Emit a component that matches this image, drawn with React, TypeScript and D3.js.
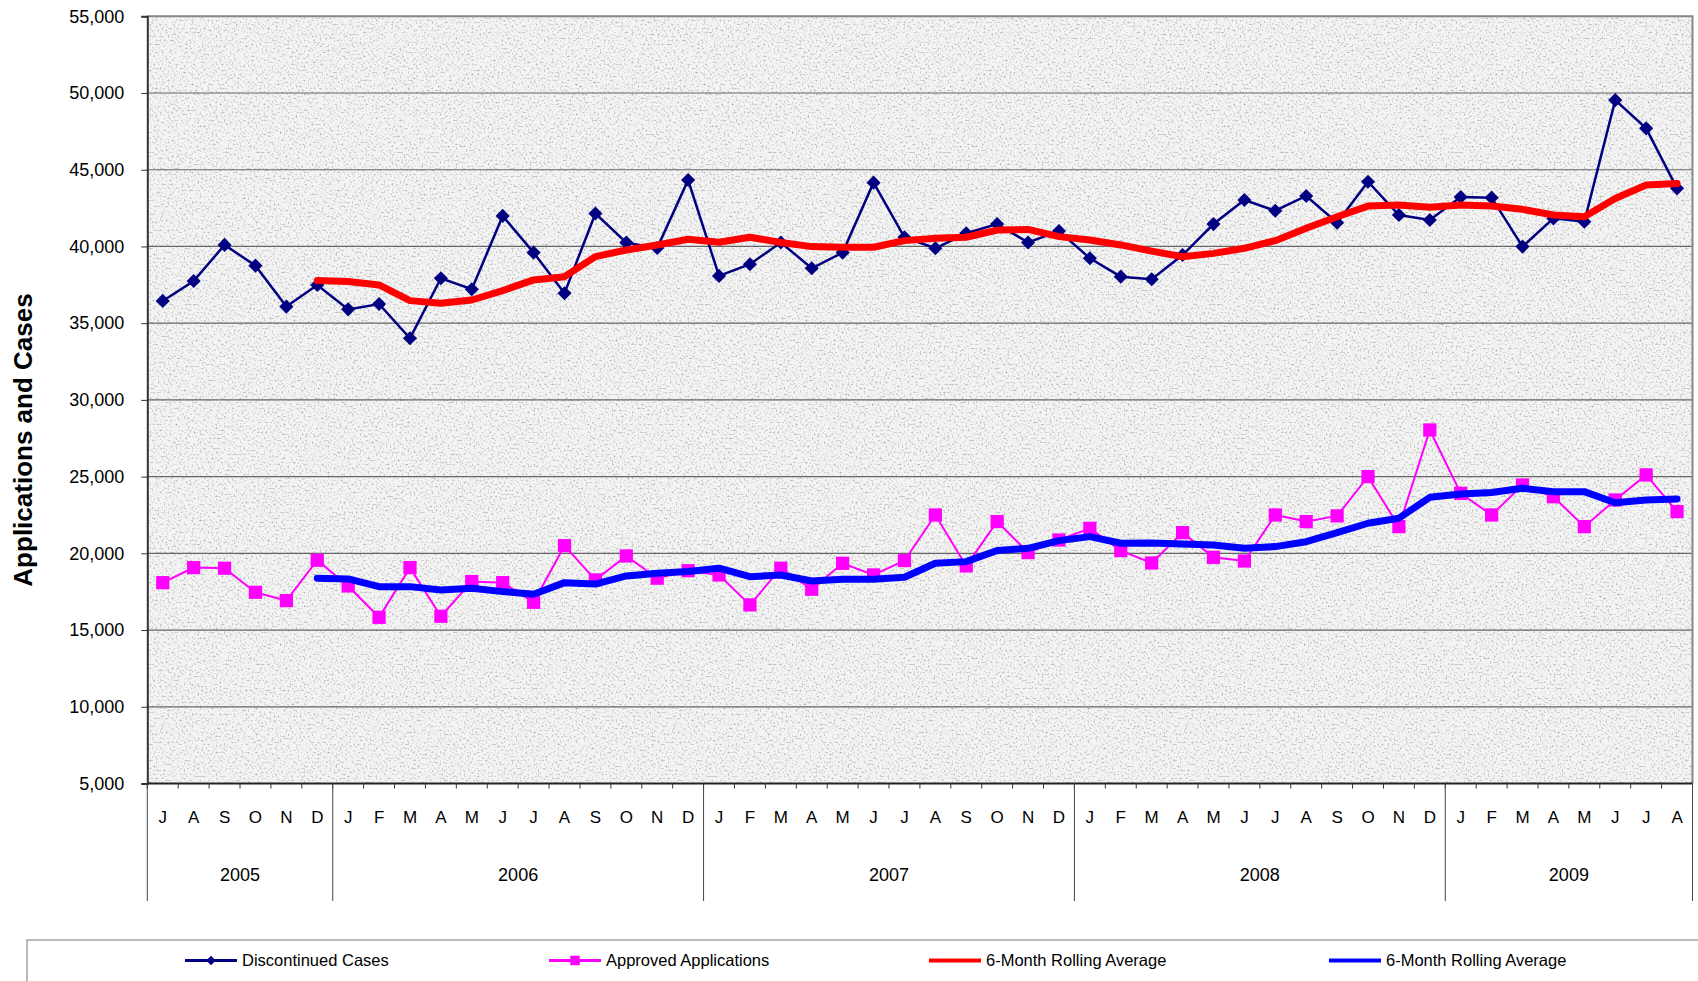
import React, { useEffect, useRef } from 'react';
import * as d3 from 'd3';

// months Jul 2005 .. Aug 2009
const monthLabels = [
  'J', 'A', 'S', 'O', 'N', 'D',
  'J', 'F', 'M', 'A', 'M', 'J', 'J', 'A', 'S', 'O', 'N', 'D',
  'J', 'F', 'M', 'A', 'M', 'J', 'J', 'A', 'S', 'O', 'N', 'D',
  'J', 'F', 'M', 'A', 'M', 'J', 'J', 'A', 'S', 'O', 'N', 'D',
  'J', 'F', 'M', 'A', 'M', 'J', 'J', 'A',
];
const years = ['2005', '2006', '2007', '2008', '2009'];
const yearMonthCounts = [6, 12, 12, 12, 8];

const yTicks = [5000, 10000, 15000, 20000, 25000, 30000, 35000, 40000, 45000, 50000, 55000];

const discontinued = [
  36450, 37750, 40100, 38750, 36080, 37490,
  35900, 36250, 34020, 37930, 37210, 41990, 39600, 36950, 42150, 40250, 39900, 44330,
  38080, 38840, 40260, 38580, 39600, 44160, 40600, 39880, 40860, 41460, 40260, 41000,
  39230, 38030, 37860, 39440, 41460, 43030, 42330, 43290, 41550, 44220, 42050, 41725,
  43220, 43180, 39990, 41830, 41610, 49540, 47700, 43790,
];
const approved = [
  18090, 19070, 19030, 17460, 16920, 19550,
  17875, 15830, 19070, 15900, 18160, 18090, 16810, 20500, 18270, 19830, 18380, 18870,
  18590, 16640, 19030, 17660, 19350, 18590, 19530, 22500, 19180, 22070, 20050, 20870,
  21630, 20180, 19370, 21350, 19740, 19500, 22500, 22070, 22440, 25000, 21740, 28040,
  23910, 22500, 24450, 23690, 21740, 23480, 25110, 22720,
];
// rolling averages start at Dec 2005 (month index 5)
const avgStart = 5;
const discontinuedAvg = [
  37780,
  37710, 37490, 36470, 36300, 36510, 37120, 37820, 38030, 39340, 39770, 40100, 40470,
  40270, 40600, 40260, 39990, 39950, 39950, 40380, 40530, 40600, 41070, 41110, 40640,
  40420, 40100, 39700, 39330, 39550, 39880, 40380, 41180, 41940, 42630, 42700, 42550,
  42700, 42630, 42420, 42050, 41940, 43130, 44000, 44100,
];
const approvedAvg = [
  18375,
  18330, 17830, 17830, 17610, 17720, 17505, 17330, 18090, 18000, 18530, 18700, 18810,
  19030, 18480, 18590, 18200, 18310, 18310, 18440, 19350, 19460, 20180, 20330, 20830,
  21090, 20660, 20680, 20610, 20550, 20330, 20440, 20760, 21350, 21960, 22290, 23650,
  23870, 23960, 24240, 24020, 24020, 23300, 23480, 23540,
];

const legendItems = [
  { name: 'Discontinued Cases', color: '#000080', marker: 'diamond', width: 3 },
  { name: 'Approved Applications', color: '#FF00FF', marker: 'square', width: 3 },
  { name: '6-Month Rolling Average', color: '#FF0000', marker: null, width: 4 },
  { name: '6-Month Rolling Average', color: '#0000FF', marker: null, width: 4 },
];

const FONT = '"Liberation Sans", Arial, sans-serif';

export default function App() {
  const ref = useRef<SVGSVGElement>(null);

  useEffect(() => {
    const W = 1698, H = 981;
    const left = 147.3, right = 1692.5, top = 16.3, bottom = 783.5;

    const svg = d3.select(ref.current).attr('width', W).attr('height', H);
    svg.selectAll('*').remove();

    const x = d3
      .scaleBand<number>()
      .domain(d3.range(monthLabels.length))
      .range([left, right])
      .padding(0);
    const bw = x.bandwidth();
    const cx = (i: number) => (x(i) as number) + bw / 2;
    const edge = (i: number) => left + i * bw;
    const y = d3.scaleLinear().domain([5000, 55000]).range([bottom, top]);

    // granite texture
    const defs = svg.append('defs');
    const f = defs
      .append('filter')
      .attr('id', 'granite')
      .attr('x', 0)
      .attr('y', 0)
      .attr('width', 1)
      .attr('height', 1);
    f.append('feTurbulence')
      .attr('type', 'fractalNoise')
      .attr('baseFrequency', 0.5)
      .attr('numOctaves', 3)
      .attr('seed', 7);
    f.append('feColorMatrix')
      .attr('type', 'matrix')
      .attr('values', '0 0 0 0 0.45  0 0 0 0 0.45  0 0 0 0 0.45  -3.2 0 0 0 1.55');

    svg.append('rect').attr('width', W).attr('height', H).attr('fill', '#fff');
    svg
      .append('rect')
      .attr('x', left)
      .attr('y', top)
      .attr('width', right - left)
      .attr('height', bottom - top)
      .attr('fill', '#f3f3f3');
    svg
      .append('rect')
      .attr('x', left)
      .attr('y', top)
      .attr('width', right - left)
      .attr('height', bottom - top)
      .attr('filter', 'url(#granite)');

    // gridlines
    svg
      .append('g')
      .selectAll('line')
      .data(yTicks.filter((t) => t > 5000 && t < 55000))
      .enter()
      .append('line')
      .attr('x1', left)
      .attr('x2', right)
      .attr('y1', (d) => y(d))
      .attr('y2', (d) => y(d))
      .attr('stroke', '#666')
      .attr('stroke-width', 1.2);

    // plot border (top/right)
    svg
      .append('path')
      .attr('d', `M${left},${top}H${right}V${bottom}`)
      .attr('fill', 'none')
      .attr('stroke', '#888')
      .attr('stroke-width', 2);

    // y axis
    const yAxis = d3
      .axisLeft(y)
      .tickValues(yTicks)
      .tickSize(6)
      .tickPadding(17)
      .tickFormat((d) => d3.format(',')(d as number));
    const ya = svg.append('g').attr('transform', `translate(${left},0)`).call(yAxis);
    ya.select('.domain').attr('stroke', '#333').attr('stroke-width', 2);
    ya.selectAll('.tick line').attr('stroke', '#333');
    ya.selectAll('.tick text')
      .attr('fill', '#000')
      .style('font-family', FONT)
      .style('font-size', '18px');

    // x axis line + month ticks
    svg
      .append('line')
      .attr('x1', left)
      .attr('x2', right)
      .attr('y1', bottom)
      .attr('y2', bottom)
      .attr('stroke', '#222')
      .attr('stroke-width', 2);
    svg
      .append('g')
      .selectAll('line')
      .data(d3.range(monthLabels.length + 1))
      .enter()
      .append('line')
      .attr('x1', (d) => edge(d))
      .attr('x2', (d) => edge(d))
      .attr('y1', bottom)
      .attr('y2', bottom + 5)
      .attr('stroke', '#333')
      .attr('stroke-width', 1);

    // year separators
    const bounds = [0];
    yearMonthCounts.forEach((c, i) => bounds.push(bounds[i] + c));
    svg
      .append('g')
      .selectAll('line')
      .data(bounds)
      .enter()
      .append('line')
      .attr('x1', (d) => edge(d))
      .attr('x2', (d) => edge(d))
      .attr('y1', bottom)
      .attr('y2', 901)
      .attr('stroke', '#444')
      .attr('stroke-width', 1);

    svg
      .append('g')
      .selectAll('text')
      .data(monthLabels)
      .enter()
      .append('text')
      .attr('x', (d, i) => cx(i))
      .attr('y', 817)
      .attr('dy', '0.35em')
      .attr('text-anchor', 'middle')
      .style('font-family', FONT)
      .style('font-size', '17px')
      .text((d) => d);

    svg
      .append('g')
      .selectAll('text')
      .data(years)
      .enter()
      .append('text')
      .attr('x', (d, i) => (edge(bounds[i]) + edge(bounds[i + 1])) / 2)
      .attr('y', 875)
      .attr('dy', '0.35em')
      .attr('text-anchor', 'middle')
      .style('font-family', FONT)
      .style('font-size', '18px')
      .text((d) => d);

    // y title
    svg
      .append('text')
      .attr('transform', `translate(32,440) rotate(-90)`)
      .attr('text-anchor', 'middle')
      .style('font-family', FONT)
      .style('font-size', '26px')
      .style('font-weight', 'bold')
      .text('Applications and Cases');

    // series
    const line = (offset: number) =>
      d3
        .line<number>()
        .x((d, i) => cx(i + offset))
        .y((d) => y(d));

    svg
      .append('path')
      .attr('d', line(0)(discontinued))
      .attr('fill', 'none')
      .attr('stroke', '#000080')
      .attr('stroke-width', 2.5);
    svg
      .append('g')
      .selectAll('path')
      .data(discontinued)
      .enter()
      .append('path')
      .attr('d', d3.symbol(d3.symbolSquare, 100)())
      .attr('transform', (d, i) => `translate(${cx(i)},${y(d)}) rotate(45)`)
      .attr('fill', '#000080');

    svg
      .append('path')
      .attr('d', line(0)(approved))
      .attr('fill', 'none')
      .attr('stroke', '#FF00FF')
      .attr('stroke-width', 2);
    svg
      .append('g')
      .selectAll('path')
      .data(approved)
      .enter()
      .append('path')
      .attr('d', d3.symbol(d3.symbolSquare, 175)())
      .attr('transform', (d, i) => `translate(${cx(i)},${y(d)})`)
      .attr('fill', '#FF00FF');

    svg
      .append('path')
      .attr('d', line(avgStart)(discontinuedAvg))
      .attr('fill', 'none')
      .attr('stroke', '#FF0000')
      .attr('stroke-width', 7)
      .attr('stroke-linejoin', 'round')
      .attr('stroke-linecap', 'round');
    svg
      .append('path')
      .attr('d', line(avgStart)(approvedAvg))
      .attr('fill', 'none')
      .attr('stroke', '#0000FF')
      .attr('stroke-width', 7)
      .attr('stroke-linejoin', 'round')
      .attr('stroke-linecap', 'round');

    // legend
    svg
      .append('rect')
      .attr('x', 27)
      .attr('y', 940)
      .attr('width', W)
      .attr('height', 100)
      .attr('fill', '#fff')
      .attr('stroke', '#777')
      .attr('stroke-width', 1);

    const legendX = [185, 549, 929, 1329];
    const lg = svg
      .append('g')
      .selectAll('g')
      .data(legendItems)
      .enter()
      .append('g')
      .attr('transform', (d, i) => `translate(${legendX[i]},960.5)`);
    lg.append('line')
      .attr('x1', 0)
      .attr('x2', 52)
      .attr('stroke', (d) => d.color)
      .attr('stroke-width', (d) => d.width);
    lg.filter((d) => d.marker === 'diamond')
      .append('path')
      .attr('d', d3.symbol(d3.symbolSquare, 45)())
      .attr('transform', 'translate(26,0) rotate(45)')
      .attr('fill', (d) => d.color);
    lg.filter((d) => d.marker === 'square')
      .append('path')
      .attr('d', d3.symbol(d3.symbolSquare, 90)())
      .attr('transform', 'translate(26,0)')
      .attr('fill', (d) => d.color);
    lg.append('text')
      .attr('x', 57)
      .attr('dy', '0.35em')
      .style('font-family', FONT)
      .style('font-size', '16.5px')
      .text((d) => d.name);
  }, []);

  return (
    <svg
      ref={ref}
      style={{ position: 'absolute', left: 0, top: 0, display: 'block' }}
    />
  );
}
